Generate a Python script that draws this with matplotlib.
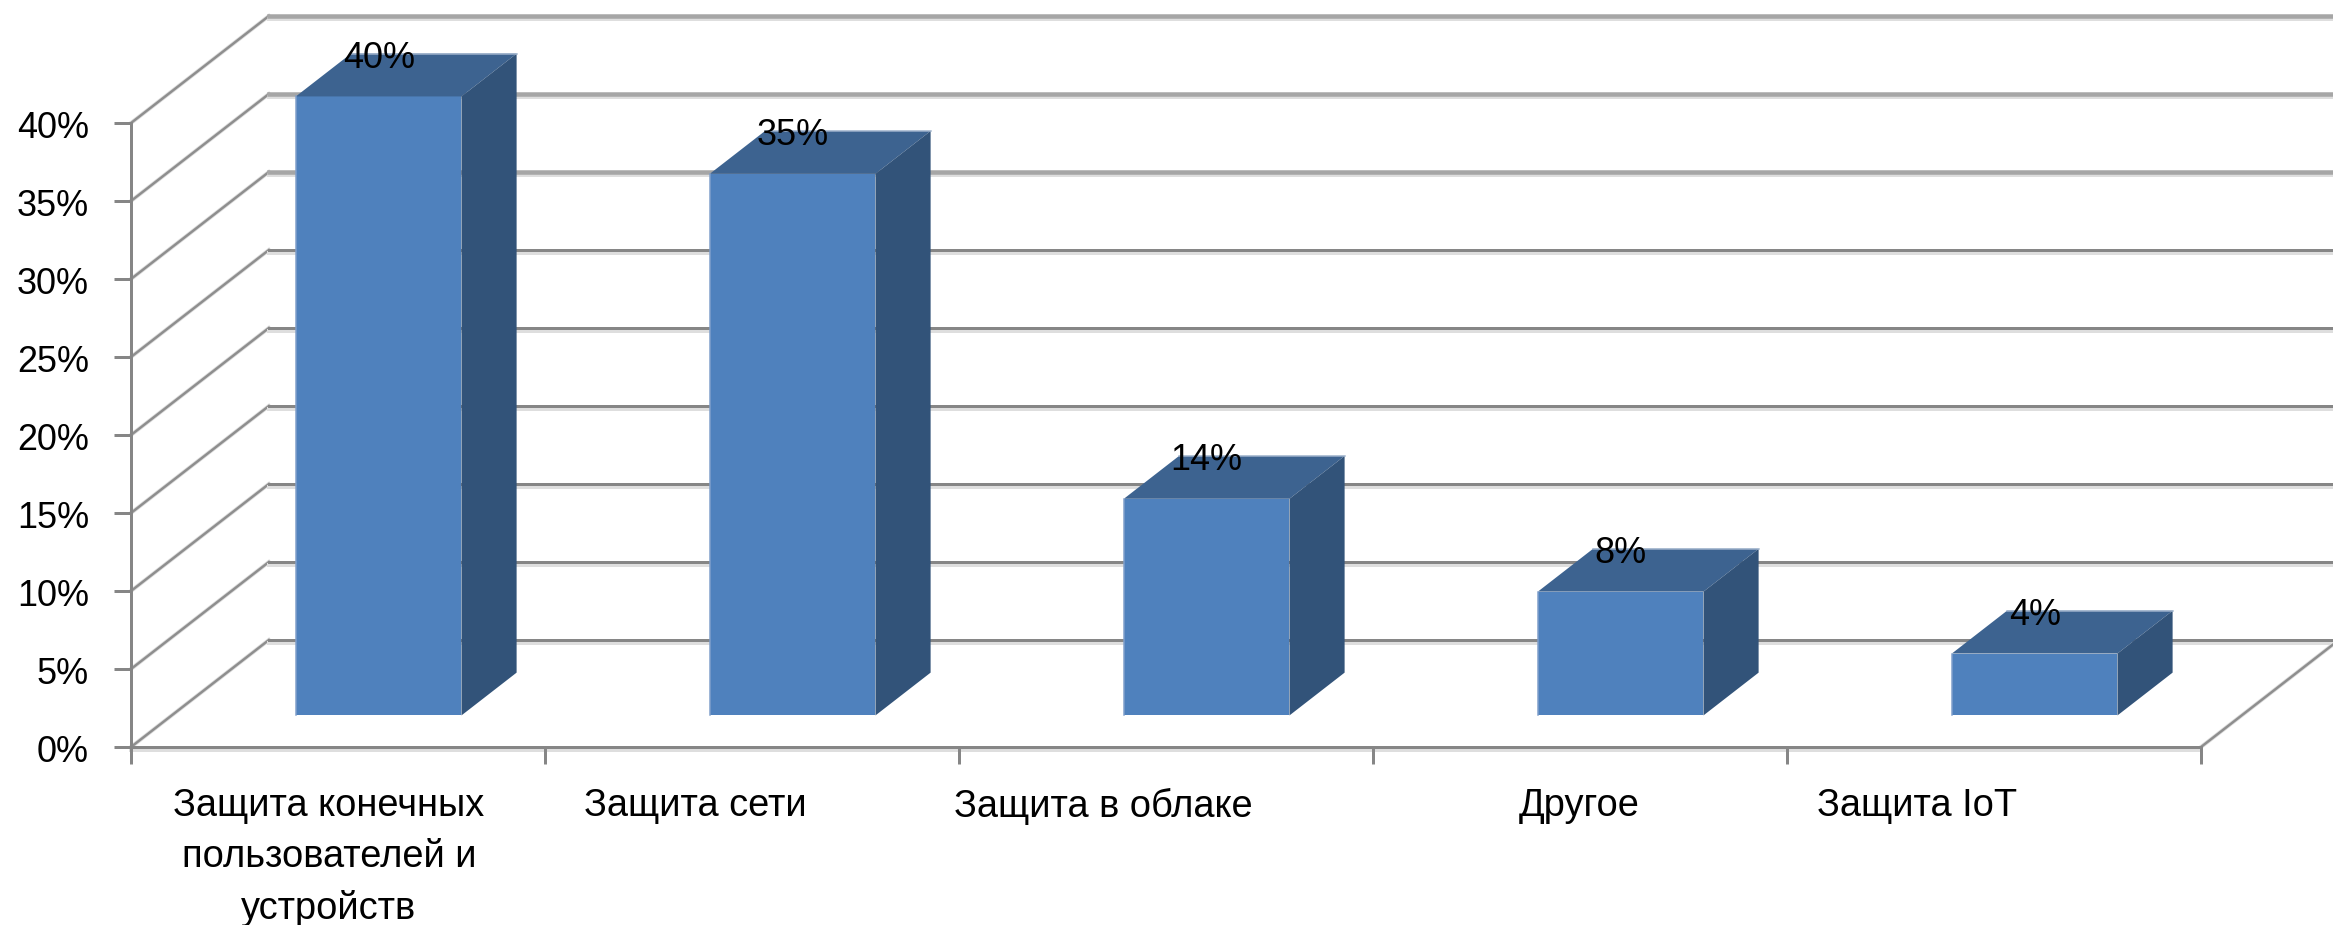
import matplotlib
matplotlib.use("Agg")
import matplotlib.pyplot as plt
from matplotlib.transforms import ScaledTranslation

plt.rcParams["font.family"] = ["Liberation Sans", "DejaVu Sans"]

categories = ["Защита конечных\nпользователей и\nустройств", "Защита сети", "Защита в облаке", "Другое", "Защита IoT"]
values = [40, 35, 14, 8, 4]
y_ticks = [0, 5, 10, 15, 20, 25, 30, 35, 40]

# fake 3D: how far one unit of depth moves a point, in data units
DEPTH_X = 0.333
DEPTH_Y = 6.86
BAR_DEPTH_FRONT = 0.295
BAR_DEPTH_BACK = 0.695
BAR_WIDTH = 0.40
BAR_SCALE = 0.992

PX = 0.72  # points per pixel at dpi 100
GRID = "#868686"
SHADOW = "#dedede"


def shift(x, y, d):
    return x + d * DEPTH_X, y + d * DEPTH_Y


def draw_walls(ax):
    for v in y_ticks:
        x0, y0 = shift(0, v, 0)
        x1, y1 = shift(0, v, 1)
        x2, y2 = shift(5, v, 1)
        ax.plot([x0, x1], [y0, y1], color="#dcdcdc", lw=4 * PX, clip_on=False, zorder=0.9)
        ax.plot([x0, x1], [y0, y1], color="#8e8e8e", lw=2.4 * PX, clip_on=False, zorder=1)
        color = "#a6a6a6" if v >= 30 else GRID
        width = 4.5 if v >= 30 else 3
        ax.plot([x1, x2], [y1 - 0.17, y2 - 0.17], color=SHADOW, lw=4 * PX, clip_on=False, zorder=1)
        ax.plot([x1, x2], [y1, y2], color=color, lw=width * PX, clip_on=False, zorder=1.5)
    # floor edge on the right
    x0, y0 = shift(5, 0, 0)
    x1, y1 = shift(5, 0, 1)
    ax.plot([x0, x1], [y0, y1], color="#dcdcdc", lw=4 * PX, clip_on=False, zorder=0.9)
    ax.plot([x0, x1], [y0, y1], color="#8e8e8e", lw=2.4 * PX, clip_on=False, zorder=1)
    ax.plot([0, 5], [-0.2, -0.2], color=SHADOW, lw=4 * PX, clip_on=False, zorder=1)


def draw_bars(ax):
    for i, v in enumerate(values):
        h = v * BAR_SCALE
        left = i + 0.5 - BAR_WIDTH / 2
        right = left + BAR_WIDTH
        fl, fb = shift(left, 0, BAR_DEPTH_FRONT)
        fr, _ = shift(right, 0, BAR_DEPTH_FRONT)
        _, bb = shift(right, 0, BAR_DEPTH_BACK)
        bl, _ = shift(left, 0, BAR_DEPTH_BACK)
        br, _ = shift(right, 0, BAR_DEPTH_BACK)

        ax.bar(fl, h, BAR_WIDTH, bottom=fb, align="edge", color="#4f81bd", clip_on=False, zorder=3)
        ax.fill([fl, fr, br, bl], [fb + h, fb + h, bb + h, bb + h], color="#3d6390", lw=0, clip_on=False, zorder=3)
        ax.fill([fr, br, br, fr], [fb, bb, bb + h, fb + h], color="#325379", lw=0, clip_on=False, zorder=3)
        ax.plot([fl, fl], [fb, fb + h], color="#7f9fcb", lw=1.5 * PX, clip_on=False, zorder=3.5)
        ax.plot([bl, br], [bb + h, bb + h], color="#9db1cb", lw=1.5 * PX, clip_on=False, zorder=3.5)

        ax.annotate(f"{v}%", (fl + BAR_WIDTH / 2, fb + h), xytext=(0, 38 * PX),
                    textcoords="offset points", ha="center", va="center",
                    fontsize=36 * PX, color="black", annotation_clip=False, zorder=5)


fig = plt.figure(figsize=(23.33, 9.25), dpi=100)
ax = fig.add_axes([131 / 2333, (925 - 747) / 925, 2070 / 2333, 624 / 925])
ax.set_xlim(0, 5)
ax.set_ylim(0, 40)

draw_walls(ax)
draw_bars(ax)

for side in ["top", "right"]:
    ax.spines[side].set_visible(False)
for side in ["left", "bottom"]:
    ax.spines[side].set_color(GRID)
    ax.spines[side].set_linewidth(3 * PX)
    ax.spines[side].set_zorder(2)

ax.set_yticks(y_ticks)
ax.set_yticklabels([f"{v}%" for v in y_ticks], fontsize=36 * PX, color="black")
ax.tick_params(axis="y", length=17 * PX, width=3 * PX, color=GRID, pad=25 * PX)
down = ScaledTranslation(0, -1 / 100, fig.dpi_scale_trans)
for label in ax.get_yticklabels():
    label.set_transform(label.get_transform() + down)

# labels in the reference are not centred on their slots
ax.set_xticks(range(6))
ax.set_xticklabels([])
ax.tick_params(axis="x", which="major", length=17 * PX, width=3 * PX, color=GRID)
ax.set_xticks([0.478, 1.362, 2.348, 3.497, 4.314], minor=True)
ax.set_xticklabels(categories, minor=True, fontsize=38 * PX, color="black", linespacing=1.53)
ax.tick_params(axis="x", which="minor", length=0, pad=41 * PX)

fig.savefig("out.png", dpi=100, facecolor="white")
